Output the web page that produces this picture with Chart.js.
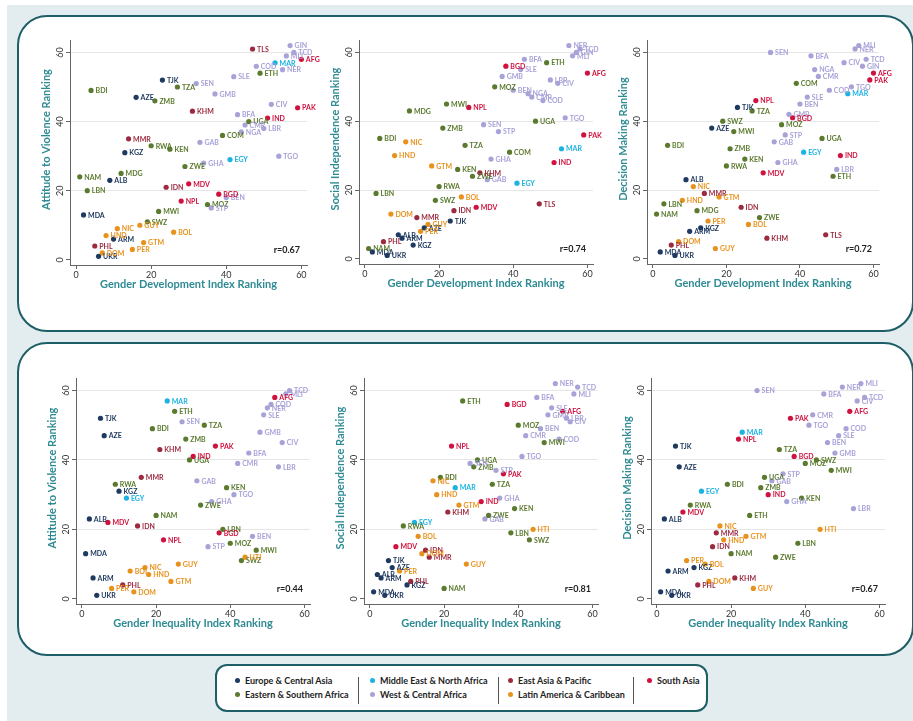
<!DOCTYPE html>
<html>
<head>
<meta charset="utf-8">
<script src="https://cdn.jsdelivr.net/npm/chart.js@4.4.1/dist/chart.umd.min.js"></script>
<style>
  body { margin: 0; width: 913px; height: 721px; position: relative; overflow: hidden; background: #fff; font-family: Lato, sans-serif; }
  #fundo { position: absolute; left: 7px; top: 5px; right: 0; bottom: 0; background: #e3edf0; }
  .painel { position: absolute; left: 17px; width: 897px; background: #fff; border: 2px solid #1e5e66; border-radius: 30px; box-sizing: border-box; }
  .grafico { position: absolute; }
  #legenda { position: absolute; left: 215px; top: 664px; width: 493px; height: 48px; background: #fff; border: 2px solid #1e5e66; border-radius: 12px; box-sizing: border-box; }
  .item { position: absolute; font: bold 9px Lato, sans-serif; color: #222; white-space: nowrap; line-height: 12px; }
  .item i { display: inline-block; width: 5px; height: 5px; border-radius: 50%; margin-right: 5px; vertical-align: 1px; }
  .sep { position: absolute; width: 1px; background: #555; top: 11px; height: 27px; }
</style>
</head>
<body>
<div id="fundo"></div>
<div class="painel" style="top:15px;height:317px"></div>
<div class="painel" style="top:342px;height:314px"></div>
<div id="legenda"></div>
<script>
// one entry per country (ranks, lower = better); null = not ranked on that index
const paises = ['GIN','TCD','MLI','AFG','TLS','MAR','COD','NER','ETH','SLE','TJK','SEN','TZA','BDI','GMB','AZE','ZMB','CIV','PAK','KHM','BFA','IND','UGA','CMR','LBR','NGA','COM','MMR','GAB','RWA','KEN','KGZ','TGO','EGY','GHA','ZWE','MDG','NAM','ALB','MDV','IDN','LBN','BGD','BEN','NPL','MOZ','STP','MWI','MDA','HTI','SWZ','GUY','NIC','BOL','HND','ARM','GTM','PHL','PER','DOM','UKR'];
const regiaoPais = ['WCA','WCA','WCA','SA','EAP','MENA','WCA','WCA','ESA','WCA','ECA','WCA','ESA','ESA','WCA','ECA','ESA','WCA','SA','EAP','WCA','SA','ESA','WCA','WCA','WCA','ESA','EAP','WCA','ESA','ESA','ECA','WCA','MENA','WCA','ESA','ESA','ESA','ECA','SA','EAP','ESA','SA','WCA','SA','ESA','WCA','ESA','ECA','LAC','ESA','LAC','LAC','LAC','LAC','ECA','LAC','EAP','LAC','LAC','ECA'];
const rankGDI = [57,58,56,60,47,53,48,55,49,42,23,32,27,4,37,16,21,52,59,31,43,51,46,45,50,44,39,14,33,20,25,13,54,41,34,29,12,1,9,30,24,3,38,40,28,35,36,22,2,null,19,17,11,26,8,10,18,5,15,7,6];
const rankGII = [null,56,55,52,null,23,51,50,25,49,5,27,33,19,48,6,28,54,36,21,45,30,29,42,53,null,null,16,31,9,39,10,41,12,35,32,null,20,2,7,15,38,37,46,22,40,34,47,1,44,43,26,17,13,18,3,24,11,8,14,4];
const rankViolencia = [62,60,59,58,61,57,56,55,54,53,52,51,50,49,48,47,46,45,44,43,42,41,40,39,38,37,36,35,34,33,32,31,30,29,28,27,25,24,23,22,21,20,19,18,17,16,15,14,13,12,11,10,9,8,7,6,5,4,3,2,1];
const rankIndependencia = [60,61,59,54,16,32,46,62,57,55,11,39,33,35,53,9,38,51,36,25,58,28,40,47,52,48,31,12,23,21,26,4,41,22,29,24,43,3,7,15,14,19,56,49,44,50,37,45,2,20,17,10,34,18,30,6,27,5,8,13,1];
const rankDecisao = [56,58,62,54,7,48,49,61,24,47,44,60,43,33,42,38,32,57,52,6,59,30,35,53,26,55,51,19,34,27,29,9,50,31,28,12,14,13,23,25,15,16,41,45,46,39,36,37,2,20,40,3,21,10,17,8,18,4,11,5,1];

const regioes = ['ECA','ESA','MENA','WCA','EAP','LAC','SA'];
const nomesRegioes = ['Europe & Central Asia','Eastern & Southern Africa','Middle East & North Africa','West & Central Africa','East Asia & Pacific','Latin America & Caribbean','South Asia'];
const ticksEixo = [0, 20, 40, 60];
const correlacoes = ['r=0.67', 'r=0.74', 'r=0.72', 'r=0.44', 'r=0.81', 'r=0.67'];

const coresRegiao = {
    ECA: '#1f3a60',
    ESA: '#5b7a2e',
    MENA: '#1cb2e2',
    WCA: '#a7a2d8',
    EAP: '#9c2b40',
    LAC: '#e8921e',
    SA: '#d1123f'
};
const corTitulo = '#2e8b93';
const corEixo = '#666666';

// chart area of each plot: [left, top, right, bottom]
const paineis = [
    { x: rankGDI, y: rankViolencia, xTitulo: 'Gender Development Index Ranking', yTitulo: 'Attitude to Violence Ranking', area: [70, 40, 307, 265] },
    { x: rankGDI, y: rankIndependencia, xTitulo: 'Gender Development Index Ranking', yTitulo: 'Social Independence Ranking', area: [359, 40, 593, 264] },
    { x: rankGDI, y: rankDecisao, xTitulo: 'Gender Development Index Ranking', yTitulo: 'Decision Making Ranking', area: [647, 40, 879, 264] },
    { x: rankGII, y: rankViolencia, xTitulo: 'Gender Inequality Index Ranking', yTitulo: 'Attitude to Violence Ranking', area: [76, 378, 310, 604] },
    { x: rankGII, y: rankIndependencia, xTitulo: 'Gender Inequality Index Ranking', yTitulo: 'Social Independence Ranking', area: [364, 378, 598, 604] },
    { x: rankGII, y: rankDecisao, xTitulo: 'Gender Inequality Index Ranking', yTitulo: 'Decision Making Ranking', area: [651, 378, 885, 604] }
];

const rotulosPontos = {
    id: 'rotulosPontos',
    afterDatasetsDraw(chart) {
        const ctx = chart.ctx;
        ctx.save();
        ctx.font = 'bold 7px Lato';
        ctx.textAlign = 'left';
        ctx.textBaseline = 'middle';
        chart.data.datasets.forEach((ds, i) => {
            ctx.fillStyle = ds.backgroundColor;
            chart.getDatasetMeta(i).data.forEach((el, j) => {
                ctx.fillText(ds.data[j].codigo, el.x + 4.5, el.y + 0.5);
            });
        });
        ctx.restore();
    }
};

const textosMoldura = {
    id: 'textosMoldura',
    afterDraw(chart, args, opts) {
        const a = chart.chartArea;
        const ctx = chart.ctx;
        const escalaY = chart.scales.y;
        ctx.save();
        ctx.textAlign = 'center';
        ctx.textBaseline = 'middle';
        ctx.font = '9px Lato';
        ctx.fillStyle = '#333';
        ticksEixo.forEach(v => {
            ctx.save();
            ctx.translate(a.left - 10, escalaY.getPixelForValue(v));
            ctx.rotate(-Math.PI / 2);
            ctx.fillText(String(v), 0, 0);
            ctx.restore();
        });
        ctx.font = 'bold 11px Lato';
        ctx.fillStyle = corTitulo;
        ctx.fillText(opts.xTitulo, (a.left + a.right) / 2, a.bottom + 19);
        ctx.save();
        ctx.translate(a.left - 24, (a.top + a.bottom) / 2 - 13);
        ctx.rotate(-Math.PI / 2);
        ctx.fillText(opts.yTitulo, 0, 0);
        ctx.restore();
        ctx.font = 'bold 9px Lato';
        ctx.fillStyle = '#222';
        ctx.textAlign = 'right';
        ctx.fillText(opts.r, a.right - 7, a.bottom - 15);
        ctx.restore();
    }
};

function montarDatasets(xs, ys) {
    return regioes.map(reg => ({
        data: paises
            .map((codigo, i) => ({ x: xs[i], y: ys[i], codigo: codigo, regiao: regiaoPais[i] }))
            .filter(p => p.regiao === reg && p.x !== null && p.y !== null),
        backgroundColor: coresRegiao[reg],
        pointRadius: 2.6,
        pointBorderWidth: 0,
        pointHoverRadius: 2.6
    }));
}

paineis.forEach((p, n) => {
    const [l, t, r, b] = p.area;
    const caixa = document.createElement('div');
    caixa.className = 'grafico';
    caixa.style.left = (l - 40) + 'px';
    caixa.style.top = (t - 5) + 'px';
    caixa.style.width = (r + 20 - (l - 40)) + 'px';
    caixa.style.height = (b + 35 - (t - 5)) + 'px';
    const canvas = document.createElement('canvas');
    caixa.appendChild(canvas);
    document.body.appendChild(caixa);

    new Chart(canvas, {
        type: 'scatter',
        data: { datasets: montarDatasets(p.x, p.y) },
        options: {
            responsive: true,
            maintainAspectRatio: false,
            animation: false,
            layout: { padding: { top: 5, right: 20, left: 0, bottom: 0 } },
            plugins: {
                legend: { display: false },
                tooltip: { enabled: false },
                textosMoldura: { xTitulo: p.xTitulo, yTitulo: p.yTitulo, r: correlacoes[n] }
            },
            scales: {
                x: {
                    type: 'linear',
                    min: -1.6,
                    max: 61.5,
                    afterBuildTicks: s => { s.ticks = ticksEixo.map(v => ({ value: v })); },
                    afterFit: s => { s.height = 35; },
                    grid: { drawOnChartArea: false, drawTicks: true, tickLength: 4, color: corEixo, tickColor: corEixo },
                    border: { display: true, color: corEixo, width: 1 },
                    ticks: { color: '#333', padding: 1, maxRotation: 0, font: { family: 'Lato', size: 9 } }
                },
                y: {
                    type: 'linear',
                    min: -1.5,
                    max: 63.6,
                    afterBuildTicks: s => { s.ticks = ticksEixo.map(v => ({ value: v })); },
                    afterFit: s => { s.width = 40; },
                    grid: {
                        color: c => (c.tick && c.tick.value === 0) ? 'rgba(0,0,0,0)' : '#e6e6e6',
                        tickColor: corEixo,
                        drawTicks: true,
                        tickLength: 4
                    },
                    border: { display: true, color: corEixo, width: 1 },
                    ticks: { display: false }
                }
            }
        },
        plugins: [rotulosPontos, textosMoldura]
    });
});

// legend
const legenda = document.getElementById('legenda');
const posicoesLegenda = [[18, 9], [18, 23], [153, 9], [153, 23], [291, 9], [291, 23], [430, 9]];
nomesRegioes.forEach((nome, i) => {
    const d = document.createElement('div');
    d.className = 'item';
    d.style.left = posicoesLegenda[i][0] + 'px';
    d.style.top = posicoesLegenda[i][1] + 'px';
    d.innerHTML = '<i style="background:' + coresRegiao[regioes[i]] + '"></i>' + nome;
    legenda.appendChild(d);
});
[141, 281, 416].forEach(x => {
    const s = document.createElement('div');
    s.className = 'sep';
    s.style.left = x + 'px';
    legenda.appendChild(s);
});
</script>
</body>
</html>
